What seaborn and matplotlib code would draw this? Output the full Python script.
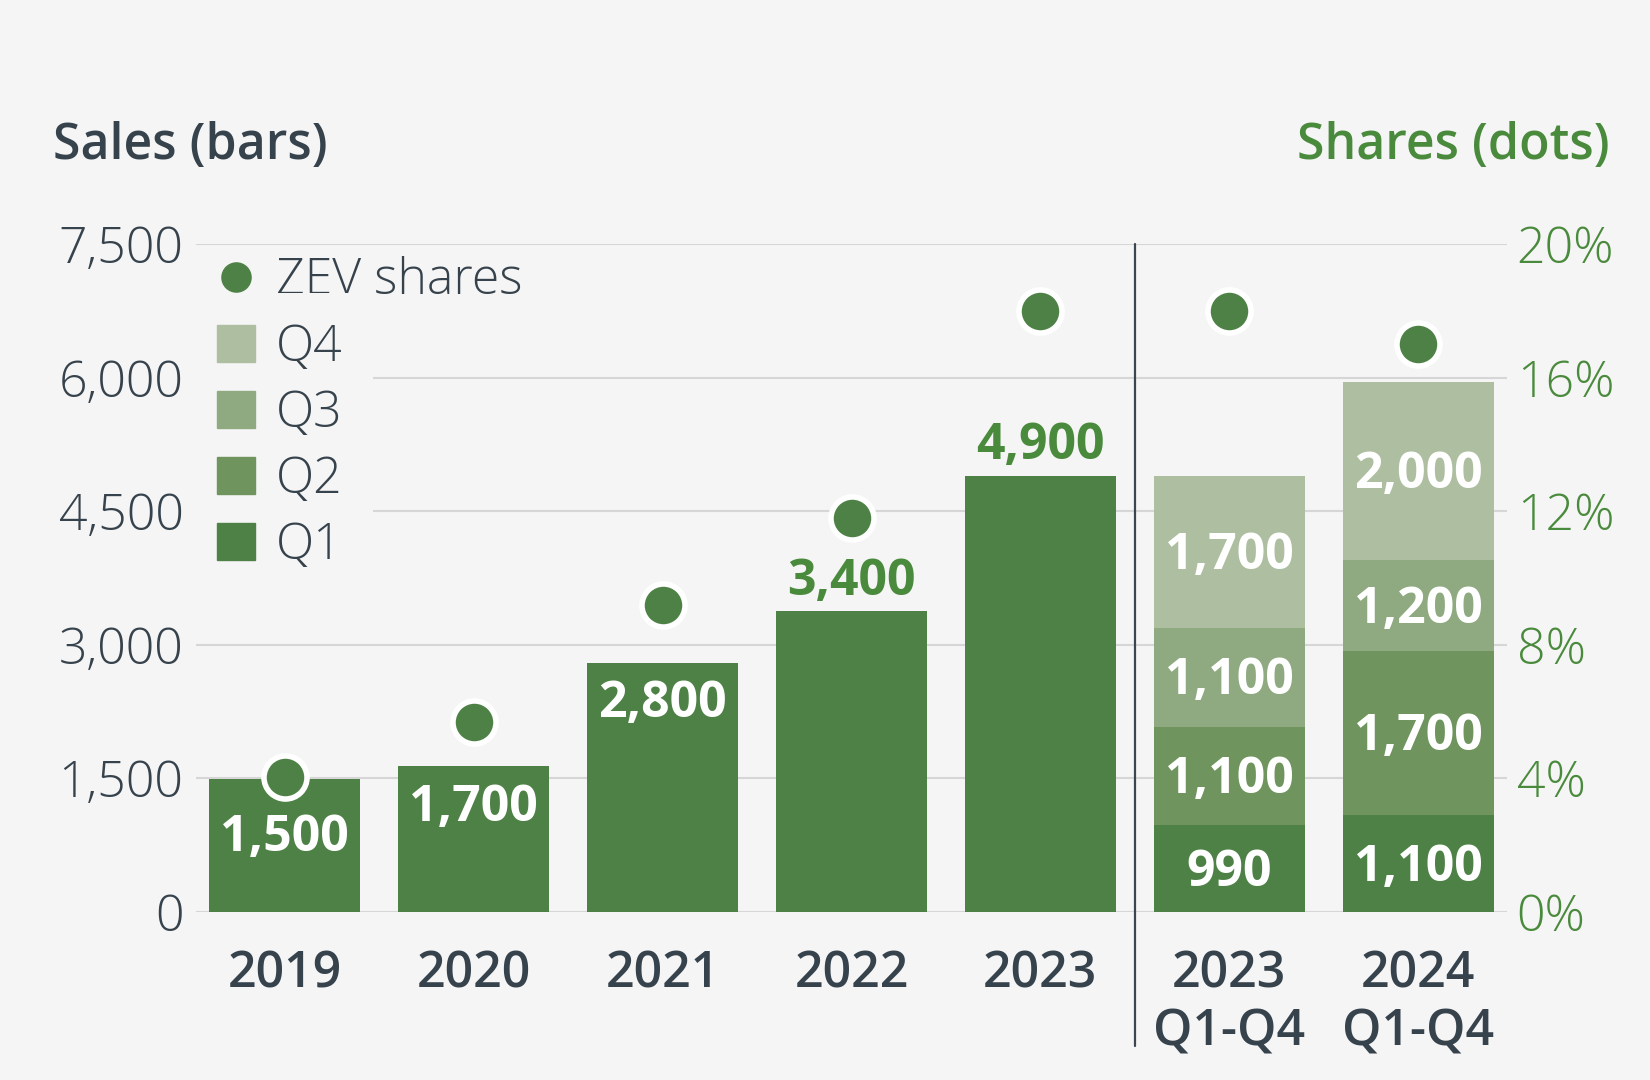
import numpy as np
import pandas as pd
import matplotlib.pyplot as plt
from matplotlib.lines import Line2D
from matplotlib.patches import Patch
import seaborn as sns

# --- DATA (bar heights, labels as printed) ---
categories = ["2019", "2020", "2021", "2022", "2023", "2023\nQ1-Q4", "2024\nQ1-Q4"]
annual_sales = [1490, 1640, 2800, 3380, 4900]
annual_labels = ["1,500", "1,700", "2,800", "3,400", "4,900"]
quarter_names = ["Q1", "Q2", "Q3", "Q4"]
q1_sales = [975, 1090]
q2_sales = [1105, 1845]
q3_sales = [1110, 1015]
q4_sales = [1710, 2000]
q1_labels = ["990", "1,100"]
q2_labels = ["1,100", "1,700"]
q3_labels = ["1,100", "1,200"]
q4_labels = ["1,700", "2,000"]
zev_shares = [4.05, 5.7, 9.2, 11.8, 18.0, 18.0, 17.0]
sales_ticks = [0, 1500, 3000, 4500, 6000, 7500]
share_ticks = [0, 4, 8, 12, 16, 20]

# --- STYLE ---
BG = "#f5f5f5"
DARK = "#37434c"
GREEN_TXT = "#4a8a3c"
GRID = "#d6d6d6"
PALETTE = {"Q1": "#4e8146", "Q2": "#6f945e", "Q3": "#8fa981", "Q4": "#aebfa1"}
FS = 36

sns.set_theme(style="white")
plt.rcParams['font.family'] = ['Open Sans', 'DejaVu Sans']

# long table: one row per drawn bar, with stacked tops
rows = []
for i, v in enumerate(annual_sales):
    rows.append((categories[i], "Q1", v, 0, v, annual_labels[i]))
stack = np.array([q1_sales, q2_sales, q3_sales, q4_sales])
stack_labels = [q1_labels, q2_labels, q3_labels, q4_labels]
tops = np.cumsum(stack, axis=0)
for j, cat in enumerate(categories[len(annual_sales):]):
    for k, q in enumerate(quarter_names):
        rows.append((cat, q, tops[k, j], tops[k, j] - stack[k, j], stack[k, j], stack_labels[k][j]))
df = pd.DataFrame(rows, columns=["period", "layer", "top", "bottom", "value", "label"])

fig, ax = plt.subplots(figsize=(16.5, 10.8), dpi=100)
fig.patch.set_facecolor(BG)
ax.set_facecolor(BG)
fig.subplots_adjust(left=196 / 1650, right=1507 / 1650, bottom=168 / 1080, top=836 / 1080)

# stacked bars: tallest layer first, overlaid (no dodge)
sns.barplot(data=df, x="period", y="top", hue="layer", hue_order=["Q4", "Q3", "Q2", "Q1"],
            order=categories, palette=PALETTE, dodge=False, saturation=1, width=0.8,
            errorbar=None, legend=False, linewidth=0, zorder=2, ax=ax)

# bar labels
for _, r in df.iterrows():
    x = categories.index(r["period"])
    if r["period"] in categories[len(annual_sales):]:
        ax.annotate(r["label"], (x, (r["top"] + r["bottom"]) / 2), xytext=(0, -3),
                    textcoords="offset points", ha="center", va="center",
                    color="white", fontsize=FS, fontweight="bold", zorder=4)
        continue
    gap = zev_shares[x] * 7500 / 20 - r["top"]
    if gap > 900:
        ax.annotate(r["label"], (x, r["top"]), xytext=(0, 21), textcoords="offset points",
                    ha="center", va="center", color=GREEN_TXT, fontsize=FS, fontweight="bold")
    else:
        off = -42 if gap < 200 else -30
        ax.annotate(r["label"], (x, r["top"]), xytext=(0, off), textcoords="offset points",
                    ha="center", va="center", color="white", fontsize=FS, fontweight="bold",
                    zorder=4)

ax.set_xlim(-0.47, len(categories) - 0.53)
ax.set_ylim(0, 7500)
ax.set_yticks(sales_ticks, labels=[f"{t:,}" for t in sales_ticks])
ax.grid(axis="y", color=GRID, linewidth=1.5)
ax.grid(axis="x", visible=False)
ax.set_axisbelow(True)
ax.set_xlabel("")
ax.set_ylabel("")
ax.tick_params(axis="y", length=0, pad=9, labelsize=FS, labelcolor=DARK)
ax.tick_params(axis="x", length=0, pad=27, labelsize=FS, labelcolor=DARK)
for lbl in ax.get_yticklabels():
    lbl.set_fontweight("light")
for lbl in ax.get_xticklabels():
    lbl.set_fontweight("semibold")
    lbl.set_linespacing(1.2)

# divider between annual and quarterly views
ax.axvline(len(annual_sales) - 0.5, ymin=-0.2, ymax=1.0, color="#3b4650", linewidth=1.6,
           clip_on=False, zorder=3)

# shares on right axis
ax2 = ax.twinx()
sns.scatterplot(x=np.arange(len(categories)), y=zev_shares, ax=ax2, s=961,
                color=PALETTE["Q1"], edgecolor="white", linewidth=4, zorder=5, clip_on=False)
ax2.set_ylim(0, 20)
ax2.set_yticks(share_ticks, labels=[f"{t}%" for t in share_ticks])
ax2.tick_params(axis="y", length=0, pad=7, labelsize=FS, labelcolor=GREEN_TXT)
for lbl in ax2.get_yticklabels():
    lbl.set_fontweight("light")
ax2.grid(False)
ax2.set_xlim(ax.get_xlim())

for a in (ax, ax2):
    for s in a.spines.values():
        s.set_visible(False)

# legend: dot entry on its own, quarter entries on a background box that hides the grid
dot_handle = Line2D([], [], marker="o", ls="", markersize=22, markerfacecolor=PALETTE["Q1"],
                    markeredgecolor="none")
leg_dot = ax.legend([dot_handle], ["ZEV shares"], loc="upper left",
                    bbox_to_anchor=(0.0164, 0.982), borderaxespad=0, borderpad=0,
                    handlelength=0.75, handletextpad=0.42, frameon=False,
                    prop={"size": FS, "weight": "light"}, labelcolor=DARK)
ax.add_artist(leg_dot)
q_handles = [Patch(color=PALETTE[q]) for q in ["Q4", "Q3", "Q2", "Q1"]]
leg_q = ax.legend(q_handles, ["Q4", "Q3", "Q2", "Q1"], loc="upper left",
                  bbox_to_anchor=(-0.0065, 0.927), borderaxespad=0, borderpad=0.6,
                  handlelength=0.75, handleheight=0.75, handletextpad=0.42, labelspacing=0.32,
                  frameon=True, facecolor=BG, edgecolor="none", framealpha=1, fancybox=False,
                  prop={"size": FS, "weight": "light"}, labelcolor=DARK)

fig.text(53 / 1650, 1 - 146 / 1080, "Sales (bars)", ha="left", va="center",
         fontsize=FS, fontweight="semibold", color=DARK)
fig.text(1610 / 1650, 1 - 146 / 1080, "Shares (dots)", ha="right", va="center",
         fontsize=FS, fontweight="semibold", color=GREEN_TXT)

fig.savefig("out.png", dpi=100, facecolor=BG)
